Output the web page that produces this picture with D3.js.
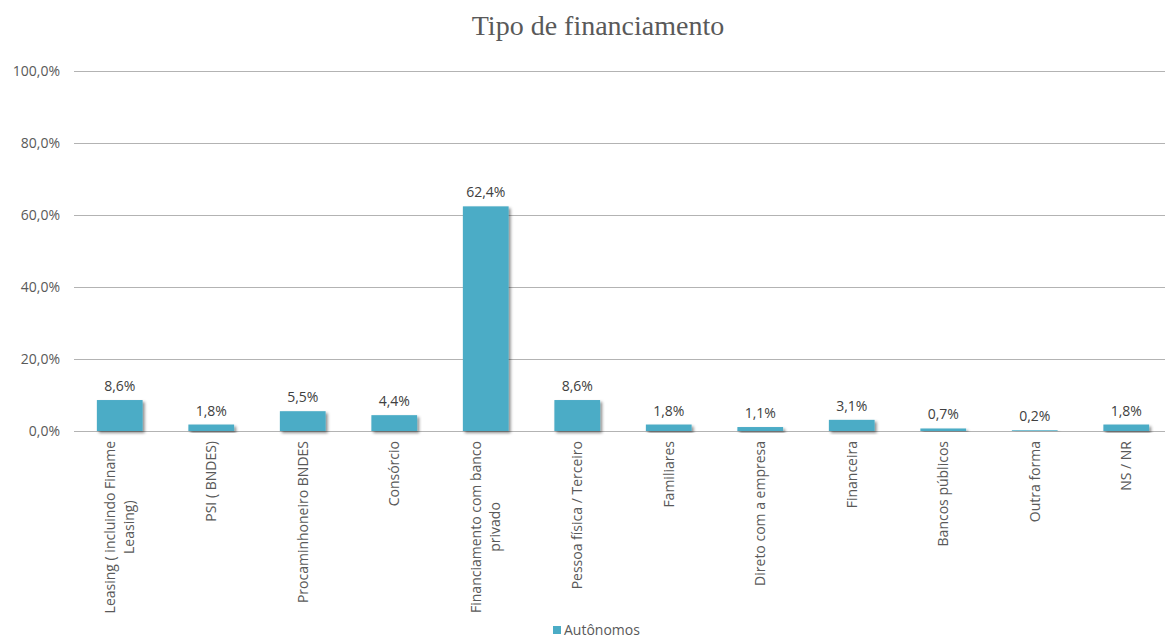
<!DOCTYPE html>
<html>
<head>
<meta charset="utf-8">
<script src="https://cdn.jsdelivr.net/npm/d3@7"></script>
<style>
  body { margin: 0; background: #fff; }
  svg { display: block; font-family: "Open Sans", sans-serif; }
</style>
</head>
<body>
<div id="grafico"></div>
<script>
// dados
const categorias = [
  ["Leasing ( incluindo Finame", "Leasing)"],
  ["PSI ( BNDES)"],
  ["Procaminhoneiro BNDES"],
  ["Consórcio"],
  ["Financiamento com banco", "privado"],
  ["Pessoa física / Terceiro"],
  ["Familiares"],
  ["Direto com a empresa"],
  ["Financeira"],
  ["Bancos públicos"],
  ["Outra forma"],
  ["NS / NR"]
];
const autonomos = [8.6, 1.8, 5.5, 4.4, 62.4, 8.6, 1.8, 1.1, 3.1, 0.7, 0.2, 1.8];
const ticksY = [0, 20, 40, 60, 80, 100];
const serie = "Autônomos";

const largura = 1165, altura = 641;
const cor = "#4bacc6", cinza = "#595959";

const svg = d3.select("#grafico").append("svg")
  .attr("width", largura)
  .attr("height", altura);

// sombra das barras
const filtro = svg.append("defs").append("filter")
  .attr("id", "sombra")
  .attr("x", "-20%").attr("y", "-20%")
  .attr("width", "150%").attr("height", "150%");
filtro.append("feDropShadow")
  .attr("dx", 2).attr("dy", 2)
  .attr("stdDeviation", 1.8)
  .attr("flood-color", "#000")
  .attr("flood-opacity", 0.45);

const x = d3.scaleBand()
  .domain(d3.range(categorias.length))
  .range([74, 1172])
  .paddingInner(0.5)
  .paddingOuter(0.25);

const y = d3.scaleLinear().domain([0, 100]).range([431, 71]);

const fmt = v => v.toFixed(1).replace(".", ",") + "%";

// titulo
svg.append("text")
  .attr("x", 598)
  .attr("y", 35)
  .attr("text-anchor", "middle")
  .attr("font-family", "'Liberation Serif', serif")
  .attr("font-size", 28)
  .attr("fill", cinza)
  .text("Tipo de financiamento");

// linhas de grade e eixo y
const eixoY = d3.axisLeft(y)
  .tickValues(ticksY)
  .tickSize(-(1172 - 74))
  .tickPadding(14)
  .tickFormat(fmt);

svg.append("g")
  .attr("transform", "translate(74,0)")
  .call(eixoY)
  .call(g => g.select(".domain").remove())
  .call(g => g.selectAll("line").attr("stroke", "#b3b3b3").attr("stroke-width", 1.2))
  .call(g => g.selectAll("text")
    .attr("font-size", 14)
    .attr("font-family", "'Open Sans', sans-serif")
    .attr("fill", cinza));

// barras
svg.append("g")
  .selectAll("rect")
  .data(autonomos)
  .join("rect")
  .attr("x", (d, i) => x(i))
  .attr("y", d => y(d))
  .attr("width", x.bandwidth())
  .attr("height", d => y(0) - y(d))
  .attr("fill", cor)
  .attr("filter", "url(#sombra)");

// rotulos de valor
svg.append("g")
  .selectAll("text")
  .data(autonomos)
  .join("text")
  .attr("x", (d, i) => x(i) + x.bandwidth() / 2)
  .attr("y", d => y(d) - 9)
  .attr("text-anchor", "middle")
  .attr("font-size", 14)
  .attr("fill", "#404040")
  .text(fmt);

// eixo x com rotulos rotacionados
const rotulos = svg.append("g")
  .selectAll("g")
  .data(categorias)
  .join("g")
  .attr("transform", (d, i) => `translate(${x(i) + x.bandwidth() / 2},441) rotate(-90)`);

rotulos.each(function(linhas) {
  const g = d3.select(this);
  const textos = linhas.map((l, k) => g.append("text")
    .attr("font-size", 14)
    .attr("fill", cinza)
    .attr("text-anchor", "middle")
    .attr("y", (k - (linhas.length - 1) / 2) * 19)
    .attr("dy", "0.35em")
    .text(l));
  const maxL = d3.max(textos, t => t.node().getComputedTextLength());
  textos.forEach(t => t.attr("x", -maxL / 2));
});

// legenda
const leg = svg.append("g").attr("transform", "translate(553,626)");
leg.append("rect").attr("width", 8).attr("height", 8).attr("fill", cor);
leg.append("text")
  .attr("x", 11)
  .attr("y", 9)
  .attr("font-size", 14)
  .attr("fill", cinza)
  .text(serie);
</script>
</body>
</html>
